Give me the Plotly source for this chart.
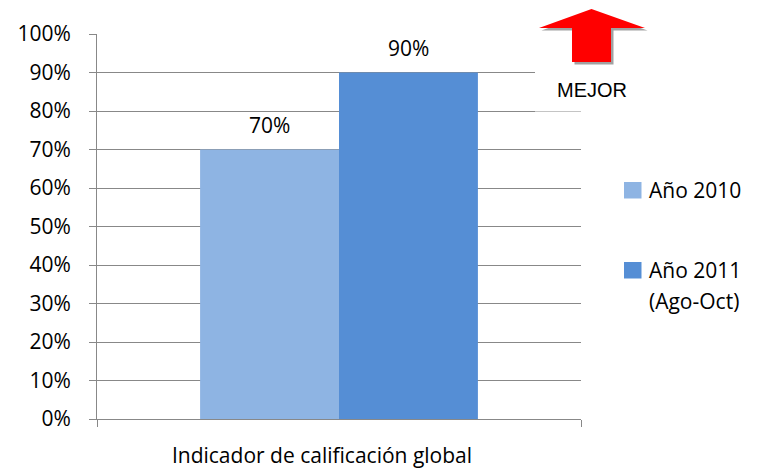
import plotly.graph_objects as go

# ---- data ----
categories = ["Indicador de calificación global"]
series_names = ["Año 2010", "Año 2011<br>(Ago-Oct)"]
series_values = [[0.70], [0.90]]
series_colors = ["#8EB4E3", "#558ED5"]
y_ticks = [0, 0.1, 0.2, 0.3, 0.4, 0.5, 0.6, 0.7, 0.8, 0.9, 1.0]
badge_text = "MEJOR"

# ---- layout geometry (pixels) ----
W, H = 757, 472
L, R, T, B = 97, 581, 34, 419
PW, PH = R - L, B - T
BARGAP = 0.426
FONT = "Open Sans, DejaVu Sans, sans-serif"
FS = 21
GRID = "#888888"


def px(x):
    return (x - L) / PW


def py(y):
    return (B - y) / PH


fig = go.Figure()
for name, vals, col in zip(series_names, series_values, series_colors):
    fig.add_trace(go.Bar(x=categories, y=vals, name=name, marker_color=col,
                         marker_line_width=0, showlegend=False))

annotations = []
n = len(series_names)
bw = (1 - BARGAP) / n
for j, vals in enumerate(series_values):
    for i, v in enumerate(vals):
        annotations.append(dict(
            x=i - (1 - BARGAP) / 2 + bw * (j + 0.5), y=v, xref="x", yref="y",
            text=f"{v:.0%}", showarrow=False, yanchor="bottom", yshift=9,
            font=dict(family=FONT, size=FS, color="#000")))

shapes = []
# badge background
shapes.append(dict(type="rect", xref="paper", yref="paper", layer="above",
                   x0=px(535), x1=px(660), y0=py(111.5), y1=py(38),
                   fillcolor="white", line_width=0))


def arrow_path(dx=0.0, dy=0.0):
    pts = [(591.5, 9), (645, 28), (611, 28), (611, 62), (572, 62), (572, 28), (539, 28)]
    return "M " + " L ".join(f"{px(x + dx):.5f},{py(y + dy):.5f}" for x, y in pts) + " Z"


shapes.append(dict(type="path", xref="paper", yref="paper", layer="above",
                   path=arrow_path(2.5, 2.5), fillcolor="rgba(110,110,110,0.65)", line_width=0))
shapes.append(dict(type="path", xref="paper", yref="paper", layer="above",
                   path=arrow_path(), fillcolor="#FF0000", line_width=0))

annotations.append(dict(x=px(592), y=py(89.5), xref="paper", yref="paper", text=badge_text,
                        showarrow=False, xanchor="center", yanchor="middle",
                        font=dict(family="Liberation Sans, Arial, sans-serif", size=20, color="#000")))

# manual legend
legend_rows = [(190, [190]), (270, [270, 301])]
for (sq_y, line_ys), name, col in zip(legend_rows, series_names, series_colors):
    shapes.append(dict(type="rect", xref="paper", yref="paper", layer="above",
                       x0=px(624), x1=px(641.5), y0=py(sq_y + 8.5), y1=py(sq_y - 8),
                       fillcolor=col, line_width=0))
    for line, ly in zip(name.split("<br>"), line_ys):
        annotations.append(dict(x=px(647), y=py(ly), xref="paper", yref="paper", text=line,
                                showarrow=False, xanchor="left", yanchor="middle",
                                font=dict(family=FONT, size=FS, color="#000")))

fig.update_layout(
    width=W, height=H,
    margin=dict(l=L, r=W - R, t=T, b=H - B, pad=0, autoexpand=False),
    paper_bgcolor="white", plot_bgcolor="white",
    barmode="group", bargap=BARGAP, bargroupgap=0,
    font=dict(family=FONT, size=FS, color="#000"),
    shapes=shapes, annotations=annotations, showlegend=False,
)
fig.update_xaxes(type="category", showline=True, linecolor=GRID, linewidth=1,
                 ticks="outside", tickson="boundaries", ticklen=7, tickcolor=GRID,
                 showgrid=False, range=[-0.5, 0.5], ticklabelstandoff=18, ticklabelshift=-17,
                 automargin=False)
fig.update_yaxes(range=[0, 1], tickvals=y_ticks, tickformat=".0%", showline=True,
                 linecolor=GRID, linewidth=1, ticks="outside", ticklen=7, tickcolor=GRID,
                 showgrid=True, gridcolor=GRID, gridwidth=1, zeroline=False,
                 ticklabelstandoff=14, automargin=False)

fig.write_html("out.html")
